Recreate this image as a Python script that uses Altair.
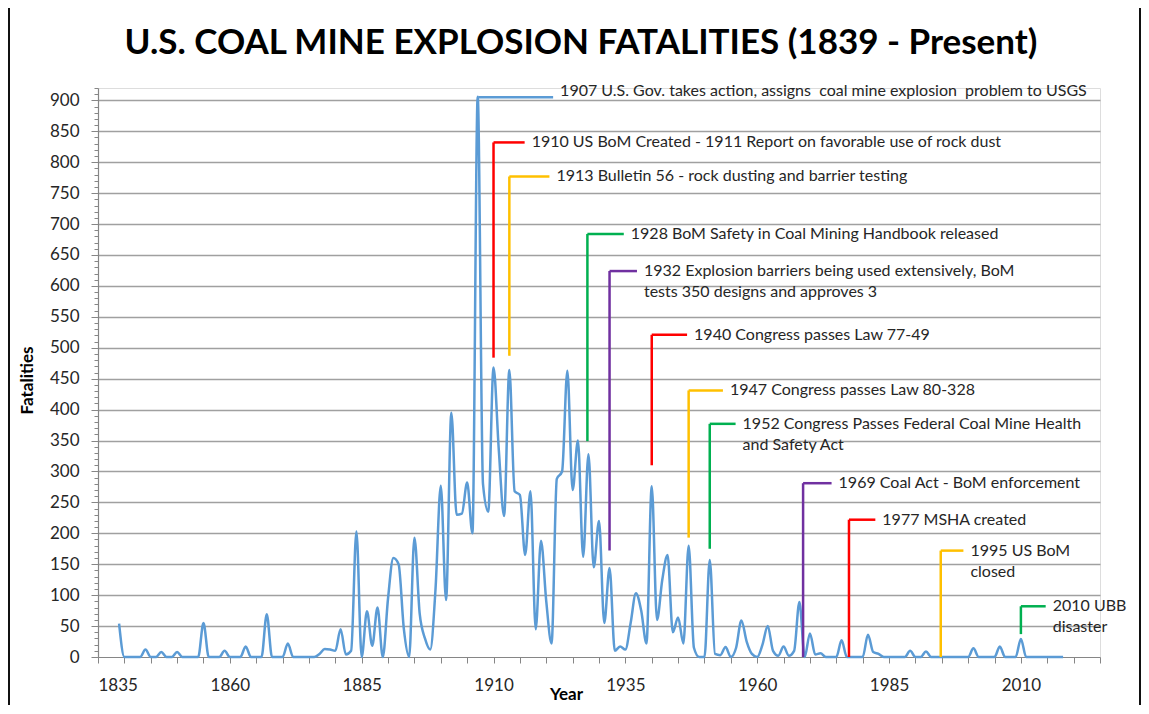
import altair as alt
import pandas as pd

# ---------------- data ----------------
years = list(range(1839, 2019))
fatalities = (
    [54]                                             # 1839
    + [0, 0, 0, 0, 12, 0, 0, 8, 0, 0]                # 1840s
    + [8, 0, 0, 0, 0, 55, 0, 0, 0, 10]               # 1850s
    + [0, 0, 0, 17, 0, 0, 0, 69, 0, 0]               # 1860s
    + [0, 22, 0, 0, 0, 0, 0, 5, 13, 12]              # 1870s
    + [10, 45, 4, 10, 203, 0, 74, 18, 80, 0]         # 1880s
    + [95, 160, 150, 45, 0, 193, 70, 30, 12, 110]    # 1890s
    + [277, 92, 395, 230, 232, 282, 200, 906, 280, 235]  # 1900s
    + [468, 335, 228, 464, 268, 262, 165, 268, 45, 188]  # 1910s
    + [90, 22, 288, 300, 463, 270, 350, 162, 328, 145]   # 1920s
    + [220, 55, 144, 10, 17, 12, 55, 103, 75, 22]    # 1930s
    + [276, 60, 125, 165, 40, 64, 22, 180, 15, 0]    # 1940s
    + [0, 157, 5, 3, 16, 0, 15, 59, 25, 5]           # 1950s
    + [0, 20, 50, 10, 2, 17, 2, 10, 89, 0]           # 1960s
    + [38, 4, 6, 0, 0, 0, 27, 0, 0, 0]               # 1970s
    + [0, 36, 8, 5, 0, 0, 0, 0, 0, 10]               # 1980s
    + [0, 0, 9, 0, 0, 0, 0, 0, 0, 0]                 # 1990s
    + [0, 14, 0, 0, 0, 0, 17, 0, 0, 0]               # 2000s
    + [29, 0, 0, 0, 0, 0, 0, 0, 0]                   # 2010s
)

ann_year = [1907.1, 1910, 1913, 1927.8, 1932, 1940, 1947, 1951, 1968.7, 1977.4, 1994.8, 2010]
ann_top = [905, 832, 777, 684, 624, 521, 431, 377, 281, 222, 172, 82]
ann_bottom = [905, 484, 487, 349, 172, 310, 193, 175, 0, 0, 0, 37]
ann_end = [1921.3, 1915.9, 1920.6, 1934.7, 1937.2, 1946.7, 1953.5, 1955.9, 1974.1, 1982.4, 1999.1, 2014.7]
ann_text_y = [915, 832, 777, 684, 624, 521, 431, 377, 281, 222, 172, 82]
ann_label = [
    "1907 U.S. Gov. takes action, assigns\u00a0 coal mine explosion\u00a0 problem to USGS",
    "1910 US BoM Created - 1911 Report on favorable use of rock dust",
    "1913 Bulletin 56 - rock dusting and barrier testing",
    "1928 BoM Safety in Coal Mining Handbook released",
    "1932 Explosion barriers being used extensively, BoM\ntests 350 designs and approves 3",
    "1940 Congress passes Law 77-49",
    "1947 Congress passes Law 80-328",
    "1952 Congress Passes Federal Coal Mine Health\nand Safety Act",
    "1969 Coal Act - BoM enforcement",
    "1977 MSHA created",
    "1995 US BoM\nclosed",
    "2010 UBB\ndisaster",
]
ann_color = ["#5B9BD5", "#FF0000", "#FFC000", "#00B050", "#7030A0", "#FF0000",
             "#FFC000", "#00B050", "#7030A0", "#FF0000", "#FFC000", "#00B050"]

title_text = "U.S. COAL MINE EXPLOSION FATALITIES (1839 - Present)"

x_ticks = list(range(1835, 2026, 5))
y_ticks = list(range(0, 921, 10))

df = pd.DataFrame({"year": years, "fatalities": fatalities})
ann = pd.DataFrame({"year": ann_year, "top": ann_top, "bottom": ann_bottom,
                    "end": ann_end, "text_y": ann_text_y,
                    "label": ann_label, "color": ann_color})

FONT = "Lato"
x_scale = alt.Scale(domain=[1835, 2025], nice=False, zero=False)
y_scale = alt.Scale(domain=[0, 920], nice=False)

x_axis = alt.Axis(
    values=x_ticks, format="d",
    labelExpr="datum.value % 25 == 10 ? datum.label : ''",
    labelOverlap=False, grid=False, tickSize=6, labelPadding=14,
    labelFont=FONT, labelFontSize=17, labelColor="#262626",
    domainColor="#868686", tickColor="#868686", domainWidth=1.2,
    title="Year", titleFont=FONT, titleFontSize=17, titleFontWeight="bold",
    titleColor="#000000", titleX=468, titleY=37, titleBaseline="middle",
    titleAlign="center")
y_axis = alt.Axis(
    values=y_ticks,
    labelExpr="datum.value % 50 == 0 ? datum.label : ''",
    labelOverlap=False, labelPadding=12,
    tickSize={"condition": {"test": "datum.value % 50 == 0", "value": 7}, "value": 4},
    gridOpacity={"condition": {"test": "datum.value % 50 == 0 && datum.value > 0", "value": 1}, "value": 0},
    grid=True, gridColor="#A0A0A0", gridWidth=1.5,
    labelFont=FONT, labelFontSize=17, labelColor="#262626",
    domainColor="#868686", tickColor="#868686", domainWidth=1.2,
    title="Fatalities", titleFont=FONT, titleFontSize=17, titleFontWeight="bold",
    titleColor="#000000", titleX=-71, titleY=292, titleAngle=-90,
    titleBaseline="middle", titleAlign="center")

line = alt.Chart(df).mark_line(interpolate="monotone", color="#5B9BD5", strokeWidth=2.5).encode(
    x=alt.X("year:Q", scale=x_scale, axis=x_axis),
    y=alt.Y("fatalities:Q", scale=y_scale, axis=y_axis),
)

vert = alt.Chart(ann).mark_rule(strokeWidth=2.5).encode(
    x=alt.X("year:Q", scale=x_scale, axis=x_axis),
    y=alt.Y("bottom:Q", scale=y_scale, axis=y_axis),
    y2="top:Q",
    color=alt.Color("color:N", scale=None),
)
horiz = alt.Chart(ann).mark_rule(strokeWidth=2.5).encode(
    x=alt.X("year:Q", scale=x_scale, axis=x_axis),
    x2="end:Q",
    y=alt.Y("top:Q", scale=y_scale, axis=y_axis),
    color=alt.Color("color:N", scale=None),
)
labels = alt.Chart(ann).mark_text(
    align="left", baseline="top", dx=7, dy=-8, lineBreak="\n", lineHeight=21,
    font=FONT, fontSize=16, color="#262626",
).encode(
    x=alt.X("end:Q", scale=x_scale, axis=x_axis),
    y=alt.Y("text_y:Q", scale=y_scale, axis=y_axis),
    text="label:N",
)

# chart title and the frame lines at the picture's left and right edges
deco = pd.DataFrame({"title": [title_text]})
title = alt.Chart(deco).mark_text(
    font=FONT, fontSize=35, fontWeight="bold", color="#000000",
    align="center", baseline="middle",
).encode(text="title:N", x=alt.value(483), y=alt.value(-45))
frame_left = alt.Chart(deco).mark_rule(color="#111111", strokeWidth=2).encode(
    x=alt.value(-89), y=alt.value(-100), y2=alt.value(700))
frame_right = alt.Chart(deco).mark_rule(color="#111111", strokeWidth=2).encode(
    x=alt.value(1042), y=alt.value(-100), y2=alt.value(700))

chart = alt.layer(line, vert, horiz, labels, title, frame_left, frame_right).properties(
    width=1002, height=569,
    autosize=alt.AutoSizeParams(type="none"),
    padding={"left": 90, "top": 80, "right": 41, "bottom": 48},
).configure_view(strokeWidth=0).configure(background="white")

chart.save("out.html", embed_options={"renderer": "svg", "actions": False})
